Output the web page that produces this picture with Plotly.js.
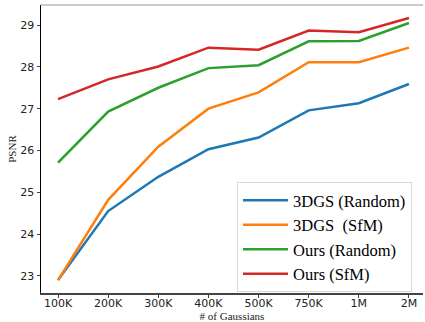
<!DOCTYPE html>
<html>
<head>
<meta charset="utf-8">
<script src="https://cdn.plot.ly/plotly-3.0.1.min.js"></script>
<style>html,body{margin:0;padding:0;background:#fff;}#chart{width:425px;height:322px;}</style>
</head>
<body>
<div id="chart"></div>
<script>
const categories = ["100K", "200K", "300K", "400K", "500K", "750K", "1M", "2M"];
const seriesNames = ["3DGS (Random)", "3DGS  (SfM)", "Ours (Random)", "Ours (SfM)"];
const gsRandom = [22.9, 24.55, 25.37, 26.03, 26.31, 26.96, 27.13, 27.59];
const gsSfm    = [22.9, 24.82, 26.09, 27.0, 27.39, 28.11, 28.11, 28.46];
const oursRandom = [25.71, 26.93, 27.5, 27.97, 28.04, 28.61, 28.62, 29.05];
const oursSfm    = [27.23, 27.7, 28.01, 28.46, 28.41, 28.87, 28.83, 29.17];
const colors = ["#1f77b4", "#ff7f0e", "#2ca02c", "#d62728"];
const allSeries = [gsRandom, gsSfm, oursRandom, oursSfm];

const traces = allSeries.map((ys, i) => ({
  x: categories, y: ys, type: "scatter", mode: "lines",
  name: seriesNames[i],
  line: {color: colors[i], width: 2.5}
}));

const layout = {
  width: 425, height: 322,
  margin: {l: 41, r: 2, t: 5, b: 29},
  paper_bgcolor: "#fff", plot_bgcolor: "#fff",
  showlegend: true,
  legend: {
    x: 0.513, y: 0.385, xanchor: "left", yanchor: "top",
    bgcolor: "#fff", bordercolor: "#d9d9d9", borderwidth: 1,
    font: {family: "Liberation Serif", size: 16.5, color: "#000"},
    itemwidth: 45
  },
  xaxis: {
    type: "category", range: [-0.34, 7.28],
    showgrid: false, zeroline: false,
    showline: true, linecolor: "#444", linewidth: 1.5,
    ticks: "outside", ticklen: 3, tickcolor: "#444",
    ticklabelstandoff: -4,
    tickfont: {family: "DejaVu Sans", size: 11, color: "#222"},
    title: {text: "# of Gaussians", font: {family: "Liberation Serif", size: 11, color: "#222"}, standoff: 0},
    mirror: false
  },
  yaxis: {
    range: [22.59, 29.48],
    tickvals: [23, 24, 25, 26, 27, 28, 29],
    showgrid: false, zeroline: false,
    showline: true, linecolor: "#000", linewidth: 1.5,
    ticks: "outside", ticklen: 3, tickcolor: "#444",
    tickfont: {family: "DejaVu Sans", size: 11, color: "#222"},
    title: {text: "PSNR", font: {family: "Liberation Serif", size: 11, color: "#222"}, standoff: 1}
  },
  shapes: [{type: "line", xref: "paper", yref: "paper", x0: 0, x1: 1, y0: 1, y1: 1, line: {color: "#bbb", width: 1.5}}]
};

Plotly.newPlot("chart", traces, layout, {displayModeBar: false, staticPlot: true});
</script>
</body>
</html>
